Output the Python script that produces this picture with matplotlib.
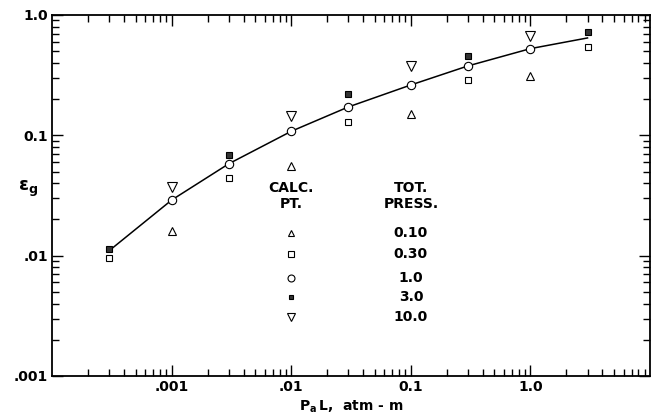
import numpy as np
import matplotlib.pyplot as plt
from matplotlib.ticker import FixedLocator, NullFormatter

# P_a L, atm-m
pl_tri_up = [0.001, 0.01, 0.1, 1.0]
eps_tri_up = [0.016, 0.056, 0.150, 0.313]          # 0.10 atm

pl_sq_open = [0.0003, 0.003, 0.03, 0.3, 3.0]
eps_sq_open = [0.0095, 0.044, 0.130, 0.288, 0.539]  # 0.30 atm

pl_circle = [0.001, 0.003, 0.01, 0.03, 0.1, 0.3, 1.0]
eps_circle = [0.029, 0.058, 0.108, 0.172, 0.262, 0.377, 0.525]  # 1.0 atm

pl_sq_fill = [0.0003, 0.003, 0.03, 0.3, 3.0]
eps_sq_fill = [0.0113, 0.068, 0.220, 0.456, 0.718]  # 3.0 atm

pl_tri_dn = [0.001, 0.01, 0.1, 1.0]
eps_tri_dn = [0.0374, 0.146, 0.379, 0.669]          # 10.0 atm

# calculated curve
pl_curve = [0.0003, 0.001, 0.003, 0.01, 0.03, 0.1, 0.3, 1.0, 3.0]
eps_curve = [0.011, 0.029, 0.058, 0.108, 0.172, 0.262, 0.377, 0.525, 0.644]

press_labels = ['0.10', '0.30', '1.0', '3.0', '10.0']

plt.rcParams['font.family'] = ['DejaVu Sans']
plt.rcParams['font.weight'] = 'bold'

fig = plt.figure(figsize=(6.52, 4.15), dpi=100)
ax = fig.add_axes([0.080, 0.094, 0.917, 0.870])

ax.plot(pl_curve, eps_curve, color='black', lw=1.1, zorder=2)
mk = dict(linestyle='none', markeredgecolor='black', markeredgewidth=0.8, zorder=3)
ax.plot(pl_tri_up, eps_tri_up, marker='^', markersize=5.5, markerfacecolor='white', **mk)
ax.plot(pl_sq_open, eps_sq_open, marker='s', markersize=4.5, markerfacecolor='white', **mk)
ax.plot(pl_circle, eps_circle, marker='o', markersize=6, markerfacecolor='white', **mk)
ax.plot(pl_sq_fill, eps_sq_fill, marker='s', markersize=4, markerfacecolor='#333333', **mk)
ax.plot(pl_tri_dn, eps_tri_dn, marker='v', markersize=6.5, markerfacecolor='white', **mk)

ax.set_xscale('log')
ax.set_yscale('log')
ax.set_xlim(1e-4, 10)
ax.set_ylim(1e-3, 1.0)

ax.xaxis.set_major_locator(FixedLocator([1e-3, 1e-2, 1e-1, 1.0]))
ax.set_xticklabels(['.001', '.01', '0.1', '1.0'], fontsize=10, fontweight='bold')
ax.yaxis.set_major_locator(FixedLocator([1e-3, 1e-2, 1e-1, 1.0]))
ax.set_yticklabels(['.001', '.01', '0.1', '1.0'], fontsize=10, fontweight='bold')
minors = [m * 10.0 ** e for e in range(-4, 1) for m in range(2, 10)]
ax.xaxis.set_minor_locator(FixedLocator(minors))
ax.yaxis.set_minor_locator(FixedLocator(minors))
ax.xaxis.set_minor_formatter(NullFormatter())
ax.yaxis.set_minor_formatter(NullFormatter())
ax.tick_params(which='both', direction='in', top=True, right=True, width=1.0)
ax.tick_params(which='major', length=8, pad=3)
ax.tick_params(which='minor', length=5)
for s in ax.spines.values():
    s.set_linewidth(1.3)

ax.set_xlabel(r'$\mathbf{P_a}$' + '$\\,$' + r'$\mathbf{L}$,  atm - m', fontsize=10, fontweight='bold')
ax.xaxis.set_label_coords(0.50, -0.063)
ax.set_ylabel(r'$\mathbf{\epsilon_g}$', fontsize=13, rotation=0)
ax.yaxis.set_label_coords(-0.04, 0.49)

# legend block drawn as text in axes
ax.text(0.4, 0.54, 'CALC.\nPT.', transform=ax.transAxes, ha='center', va='top',
        fontsize=10, fontweight='bold', linespacing=1.15)
ax.text(0.6, 0.54, 'TOT.\nPRESS.', transform=ax.transAxes, ha='center', va='top',
        fontsize=10, fontweight='bold', linespacing=1.15)
leg_marks = [('^', 'white', 5), ('s', 'white', 4), ('o', 'white', 5), ('s', '#333333', 3.5), ('v', 'white', 5.5)]
leg_y = [0.396, 0.337, 0.271, 0.219, 0.163]
for (m, fc, ms), yy, lab in zip(leg_marks, leg_y, press_labels):
    ax.plot([0.399], [yy], transform=ax.transAxes, marker=m, markersize=ms,
            markerfacecolor=fc, markeredgecolor='black', markeredgewidth=0.8, linestyle='none')
    ax.text(0.60, yy, lab, transform=ax.transAxes, ha='center', va='center',
            fontsize=10, fontweight='bold')

fig.savefig('out.png', dpi=100)
